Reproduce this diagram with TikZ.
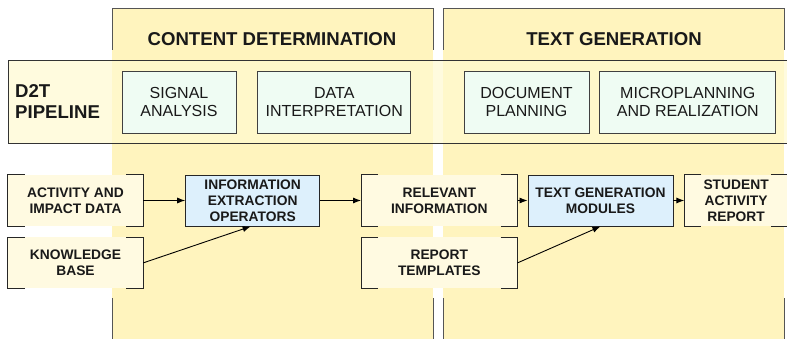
\documentclass[tikz,border=0pt]{standalone}
\usepackage{fontspec}
\setmainfont{Liberation Sans}
\usetikzlibrary{arrows.meta,positioning}
\definecolor{colyellow}{HTML}{FFF4BE}
\definecolor{bandyellow}{HTML}{FFFAD0}
\definecolor{creambox}{HTML}{FFFAE1}
\definecolor{mintbox}{HTML}{EFFCF3}
\definecolor{bluebox}{HTML}{DDF0FC}
\definecolor{edgegray}{HTML}{555555}

\begin{document}
\begin{tikzpicture}[x=1pt,y=-1pt, every node/.style={align=center,text=black!90},
 head/.style={font=\fontsize{18.6}{21}\selectfont\bfseries,inner sep=0pt},
 stage/.style={draw=black!75,fill=mintbox,line width=0.8pt,minimum height=62pt,inner sep=0pt,
   font=\fontsize{16}{18}\selectfont},
 databox/.style={fill=creambox,minimum height=51pt,inner sep=0pt,
   font=\fontsize{13.8}{16}\selectfont\bfseries},
 opbox/.style={databox,draw=black!85,fill=bluebox,line width=0.9pt},
 flow/.style={-{Latex[length=8pt,width=6pt]},line width=0.9pt}]
\useasboundingbox (0,0) rectangle (787,339);
\fill[colyellow] (112,9) rectangle (433,339);
\fill[colyellow] (443,9) rectangle (784,339);
\draw[edgegray,line width=1pt] (112,50)--(112,9)--(433,9)--(433,50) (443,50)--(443,9)--(784,9)--(784,50);
\foreach \x in {112,433,443,784} \draw[edgegray,line width=1pt] (\x,298)--(\x,339);
\fill[bandyellow,opacity=0.7] (8,60) rectangle (787,143);
\draw[black!80,line width=0.9pt] (787,60)--(8,60)--(8,143)--(787,143);

\node[head] (cd) at (272,39) {CONTENT DETERMINATION};
\node[head] (tg) at (614,39) {TEXT GENERATION};
\node[head,anchor=west,align=left] (pipe) at (15,102) {D2T\\PIPELINE};

\node[stage,minimum width=114pt] (sig) at (179,102) {SIGNAL\\ANALYSIS};
\node[stage,minimum width=153pt,right=21pt of sig] (interp) {DATA\\INTERPRETATION};
\node[stage,minimum width=125pt] (doc) at (526.5,102) {DOCUMENT\\PLANNING};
\node[stage,minimum width=176pt,right=10pt of doc] (micro) {MICROPLANNING\\AND REALIZATION};

\node[databox,minimum width=135pt] (act) at (75.5,200.5) {ACTIVITY AND\\IMPACT DATA};
\node[databox,minimum width=135pt,below=11pt of act] (kb) {KNOWLEDGE\\BASE};
\node[opbox,minimum width=134pt,right=42pt of act] (info) {INFORMATION\\EXTRACTION\\OPERATORS};
\node[databox,minimum width=156pt,right=41pt of info] (rel) {RELEVANT\\INFORMATION};
\node[databox,minimum width=156pt,below=11pt of rel] (tpl) {REPORT\\TEMPLATES};
\node[opbox,minimum width=145pt,right=10pt of rel] (tgm) {TEXT GENERATION\\MODULES};
\node[databox,minimum width=103pt,right=11pt of tgm] (rep) {STUDENT\\ACTIVITY\\REPORT};

\foreach \n in {act,kb,rel,tpl,rep}
 \draw[black!85,line width=0.9pt] ([xshift=17pt]\n.north west)--(\n.north west)--(\n.south west)--([xshift=17pt]\n.south west)
  ([xshift=-17pt]\n.north east)--(\n.north east)--(\n.south east)--([xshift=-17pt]\n.south east);

\draw[flow] (act)--(info);
\draw[flow] (kb.east)--([xshift=-2pt]info.south);
\draw[flow] (info)--(rel);
\draw[flow] (rel)--(tgm);
\draw[flow] (tpl.east)--(tgm.south);
\draw[flow] (tgm)--(rep);
\end{tikzpicture}
\end{document}
